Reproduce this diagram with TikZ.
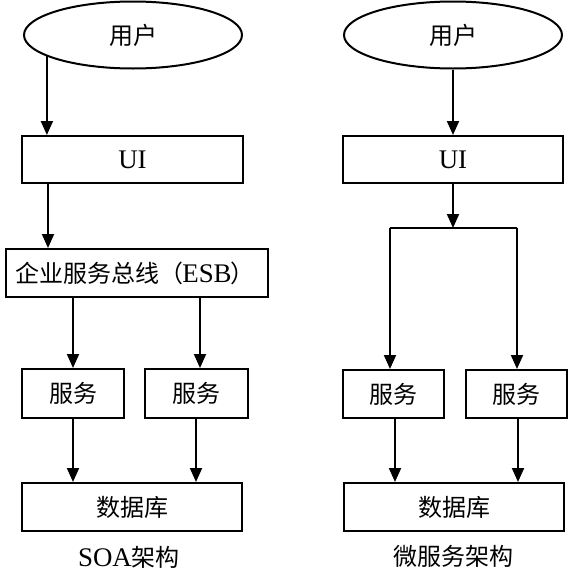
\documentclass[tikz,border=0pt]{standalone}
\usepackage{fontspec}
\setmainfont{Liberation Serif}[Scale=1.12]
\newfontfamily\cjk{Noto Sans CJK SC}
\usetikzlibrary{shapes.geometric,arrows.meta}
\begin{document}
\begin{tikzpicture}[x=1pt,y=-1pt,
  txt/.style={font=\fontsize{24}{24}\selectfont},
  box/.style={draw,rectangle,line width=2pt,inner sep=0pt,txt},
  ell/.style={draw,ellipse,line width=2pt,inner sep=0pt,minimum width=218pt,minimum height=67pt,txt},
  arr/.style={line width=2pt,-{Triangle[length=14pt,width=12pt]}},
  ln/.style={line width=2pt}]
\useasboundingbox (0,0) rectangle (572,576);
% left: SOA
\node[ell] (user1) at (133,35) {\cjk 用户};
\node[box,minimum width=221pt,minimum height=47pt] (ui1) at (132.5,159.5) {UI};
\node[box,minimum width=262pt,minimum height=48pt] (esb) at (137,273) {\hspace*{-4pt}{\cjk 企业服务总线（}\kern-1pt ESB\kern-1pt{\cjk ）}};
\node[box,minimum width=102pt,minimum height=49pt] (s1) at (73,393.5) {\cjk 服务};
\node[box,minimum width=103pt,minimum height=49pt] (s2) at (196,393.5) {\cjk 服务};
\node[box,minimum width=220pt,minimum height=48pt] (db1) at (132,507) {\cjk 数据库};
\node[txt] (lab1) at (129,557) {SOA{\cjk 架构}};
\coordinate (cA) at (48,0);
\coordinate (cB) at (200,0);
\draw[arr] (user1.194) -- (user1.194 |- ui1.north);
\draw[arr] (ui1.south -| cA) -- (esb.north -| cA);
\draw[arr] (esb.south -| s1.north) -- (s1.north);
\draw[arr] (esb.south -| cB) -- (s2.north -| cB);
\draw[arr] (s1.south) -- (s1.south |- db1.north);
\draw[arr] (s2.south) -- (s2.south |- db1.north);
% right: microservices
\node[ell] (user2) at (453,35) {\cjk 用户};
\node[box,minimum width=220pt,minimum height=47pt] (ui2) at (453,159.5) {UI};
\coordinate (j) at (453,228);
\node[box,minimum width=101pt,minimum height=48pt] (s3) at (393.5,394) {\cjk 服务};
\node[box,minimum width=101pt,minimum height=48pt] (s4) at (516.5,394) {\cjk 服务};
\node[box,minimum width=220pt,minimum height=48pt] (db2) at (454,507) {\cjk 数据库};
\node[txt] (lab2) at (453,556) {\cjk 微服务架构};
\coordinate (cC) at (390,0);
\coordinate (cD) at (517,0);
\coordinate (cE) at (395,0);
\coordinate (cF) at (518,0);
\draw[arr] (user2.south) -- (ui2.north);
\draw[arr] (ui2.south) -- (j);
\draw[ln] (j -| cC) -- (j -| cD);
\draw[arr] (j -| cC) -- (s3.north -| cC);
\draw[arr] (j -| cD) -- (s4.north -| cD);
\draw[arr] (s3.south -| cE) -- (db2.north -| cE);
\draw[arr] (s4.south -| cF) -- (db2.north -| cF);
\end{tikzpicture}
\end{document}
